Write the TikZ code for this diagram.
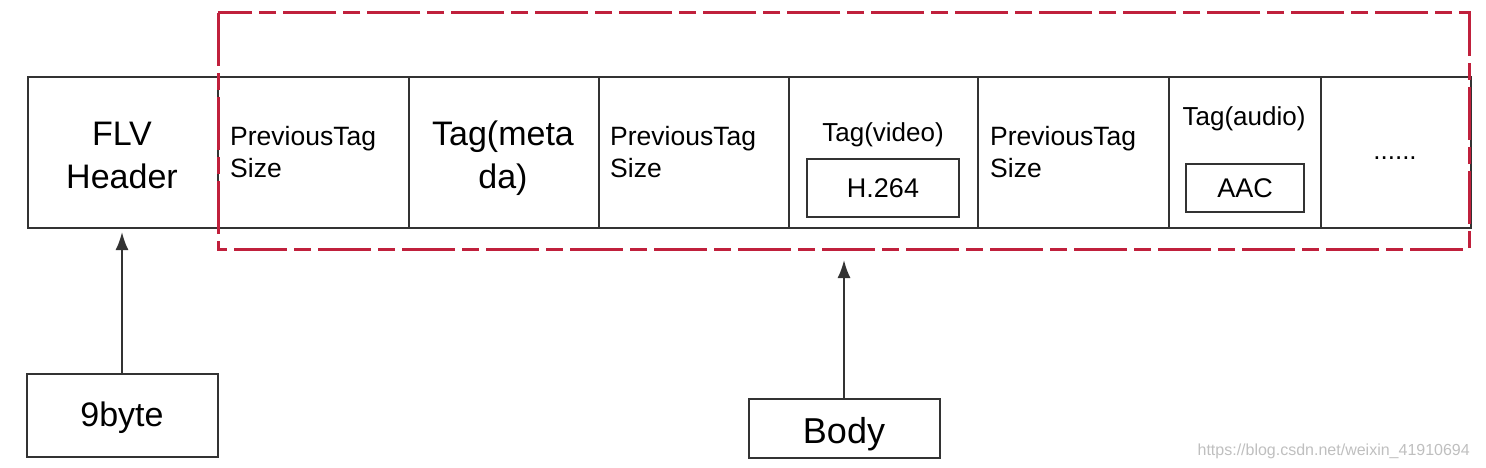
\documentclass[tikz,border=0pt]{standalone}
\usepackage{fontspec}
\setmainfont{Liberation Sans}
\usetikzlibrary{arrows.meta}
\definecolor{redline}{HTML}{C0203C}
\definecolor{boxline}{HTML}{333333}
\tikzset{
  cell/.style={draw=boxline, line width=2pt, rectangle, inner sep=0pt, anchor=north west},
  lbl/.style={inner sep=0pt, align=center, font=\fontsize{34}{43}\selectfont},
  ptag/.style={inner sep=0pt, align=left, anchor=west, font=\fontsize{26.5}{32}\selectfont},
  small/.style={inner sep=0pt, align=center, font=\fontsize{26}{30}\selectfont},
  sub/.style={draw=boxline, line width=2pt, rectangle, inner sep=0pt},
  arr/.style={draw=boxline, line width=2pt, -{Latex[length=18pt,width=13pt]}},
  region/.style={draw=redline, line width=3pt, dash pattern=on 53pt off 7pt on 17pt off 7pt},
}
\begin{document}
\begin{tikzpicture}[x=1pt,y=-1pt]
\useasboundingbox (0,0) rectangle (1486,468);
% cells
\node[cell, minimum width=190pt, minimum height=151pt] (hdr) at (27,76) {};
\node[cell, minimum width=191pt, minimum height=151pt] (pts1) at (217,76) {};
\node[cell, minimum width=190pt, minimum height=151pt] (meta) at (408,76) {};
\node[cell, minimum width=190pt, minimum height=151pt] (pts2) at (598,76) {};
\node[cell, minimum width=189pt, minimum height=151pt] (vid) at (788,76) {};
\node[cell, minimum width=191pt, minimum height=151pt] (pts3) at (977,76) {};
\node[cell, minimum width=152pt, minimum height=151pt] (aud) at (1168,76) {};
\node[cell, minimum width=150pt, minimum height=151pt] (more) at (1320,76) {};
% texts
\node[lbl] (hdrt) at (122,155) {FLV\\Header};
\node[ptag] (pts1t) at (230,152) {PreviousTag\\Size};
\node[lbl] (metat) at (503,158) {Tag(meta\\da)};
\node[ptag] (pts2t) at (610,152) {PreviousTag\\Size};
\node[small] (vidt) at (883,135) {Tag(video)};
\node[sub, minimum width=152pt, minimum height=58pt, font=\fontsize{27}{30}\selectfont] (h264) at (883,188) {H.264};
\node[ptag] (pts3t) at (990,152) {PreviousTag\\Size};
\node[small] (audt) at (1244,119) {Tag(audio)};
\node[sub, minimum width=118pt, minimum height=47pt, font=\fontsize{27}{30}\selectfont] (aac) at (1245,188) {AAC};
\node[small] (dots) at (1395,158) {......};
% red region
\draw[region] (218,13) rectangle (1469,249);
% bottom boxes
\node[sub, minimum width=191pt, minimum height=83pt] (nine) at (122,415.5) {};
\node[inner sep=0pt, font=\fontsize{34}{40}\selectfont] (ninet) at (122,418) {9byte};
\node[sub, minimum width=191pt, minimum height=59pt] (body) at (844,428.5) {};
\node[inner sep=0pt, font=\fontsize{36}{40}\selectfont] (bodyt) at (844,434) {Body};
\coordinate (btip) at (844,260);
\coordinate (htip) at (122,232);
\draw[arr] (nine.north) -- (htip);
\draw[arr] (body.north) -- (btip);
% watermark
\node[inner sep=0pt, anchor=east, text=black!25, font=\fontsize{16}{18}\selectfont] (wm) at (1470,451) {https://blog.csdn.net/weixin\_41910694};
\end{tikzpicture}
\end{document}
